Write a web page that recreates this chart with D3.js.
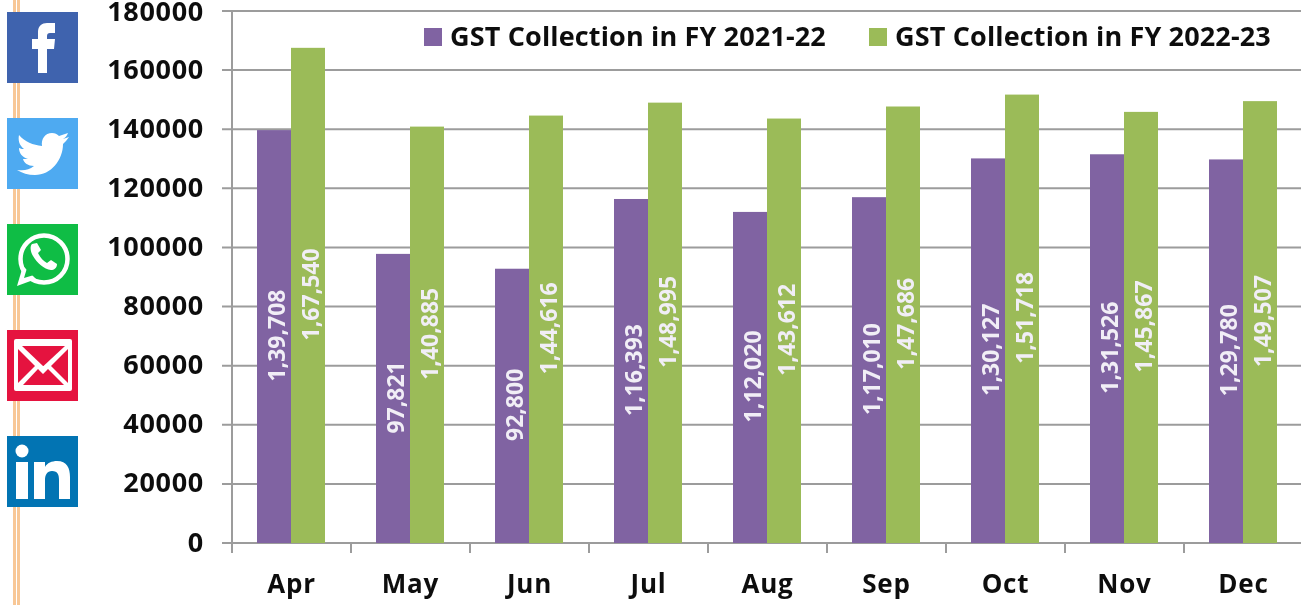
<!DOCTYPE html>
<html><head><meta charset="utf-8">
<script src="https://cdn.jsdelivr.net/npm/d3@7"></script>
<style>html,body{margin:0;padding:0;background:#fff;overflow:hidden}
svg{display:block}text{font-family:"Open Sans","Noto Sans",sans-serif;font-weight:700}</style>
</head><body><svg id="c" width="1301" height="605"></svg>
<script>
const months=["Apr","May","Jun","Jul","Aug","Sep","Oct","Nov","Dec"];
const fy2122=[139708,97821,92800,116393,112020,117010,130127,131526,129780];
const fy2223=[167540,140885,144616,148995,143612,147686,151718,145867,149507];
const labels2122=["1,39,708","97,821","92,800","1,16,393","1,12,020","1,17,010","1,30,127","1,31,526","1,29,780"];
const labels2223=["1,67,540","1,40,885","1,44,616","1,48,995","1,43,612","1,47,686","1,51,718","1,45,867","1,49,507"];
const yTicks=[0,20000,40000,60000,80000,100000,120000,140000,160000,180000];
const seriesNames=["GST Collection in FY 2021-22","GST Collection in FY 2022-23"];
const colors=["#8064a2","#9bbb59"];

const svg=d3.select("#c");
const soft=svg.append("defs").append("filter").attr("id","soft");
soft.append("feGaussianBlur").attr("stdDeviation",0.45);

const x=d3.scaleBand().domain(months).range([232,1303]);
const y=d3.scaleLinear().domain([0,180000]).range([543,11]);
const inner=d3.scaleBand().domain([0,1]).range([25,93]);

// side rule
svg.append("rect").attr("x",13).attr("y",0).attr("width",3).attr("height",605).attr("fill","#f8c796");
svg.append("rect").attr("x",17).attr("y",0).attr("width",3).attr("height",605).attr("fill","#f8c796");

// grid and axes
const g=svg.append("g").attr("filter","url(#soft)");
g.selectAll("line.grid").data(yTicks).join("line").attr("class","grid")
 .attr("x1",222).attr("x2",1303).attr("y1",d=>y(d)).attr("y2",d=>y(d))
 .attr("stroke","#9c9c9c").attr("stroke-width",2);
g.append("line").attr("x1",232).attr("x2",232).attr("y1",11).attr("y2",553).attr("stroke","#9c9c9c").attr("stroke-width",2);
const bandEdges=months.map(m=>x(m)).concat([1303]);
g.selectAll("line.tick").data(bandEdges).join("line").attr("class","tick")
 .attr("x1",d=>d).attr("x2",d=>d).attr("y1",543).attr("y2",553).attr("stroke","#9c9c9c").attr("stroke-width",2);

g.selectAll("text.yl").data(yTicks).join("text").attr("class","yl")
 .attr("x",204).attr("y",d=>Math.max(y(d)+8.5,21)).attr("text-anchor","end").attr("font-size",27).attr("letter-spacing",0.7).attr("fill","#111")
 .text(d=>d);
g.selectAll("text.xl").data(months).join("text").attr("class","xl")
 .attr("x",d=>x(d)+x.bandwidth()/2).attr("y",593).attr("text-anchor","middle").attr("font-size",26).attr("letter-spacing",0.8).attr("fill","#111")
 .text(d=>d);

// bars and rotated labels
[fy2122,fy2223].forEach((vals,s)=>{
  const lab=s===0?labels2122:labels2223;
  g.selectAll("rect.b"+s).data(vals).join("rect").attr("class","b"+s)
   .attr("x",(d,i)=>x(months[i])+inner(s)).attr("width",inner.bandwidth())
   .attr("y",d=>y(d)).attr("height",d=>y(0)-y(d)).attr("fill",colors[s]);
  g.selectAll("text.v"+s).data(vals).join("text").attr("class","v"+s)
   .attr("transform",(d,i)=>`translate(${x(months[i])+inner(s)+inner.bandwidth()/2+11},${(y(d)+y(0))/2-1}) rotate(-90)`)
   .attr("text-anchor","middle").attr("font-size",23).attr("fill","#f1eef6")
   .text((d,i)=>lab[i]);
});

// legend
const legX=[424,869];
seriesNames.forEach((n,i)=>{
  g.append("rect").attr("x",legX[i]).attr("y",28).attr("width",18).attr("height",18).attr("fill",colors[i]);
  g.append("text").attr("x",legX[i]+26).attr("y",46).attr("font-size",27).attr("letter-spacing",0.15).attr("fill","#111").text(n);
});

// share icons
const icons=[["#3f63ae",12],["#4eaaf1",118],["#0fbd45",224],["#e5133f",330],["#0274b3",436]];
const ic=svg.selectAll("g.icon").data(icons).join("g").attr("class","icon")
 .attr("transform",d=>`translate(7,${d[1]})`);
ic.append("rect").attr("width",71).attr("height",71).attr("fill",d=>d[0]);
const w="#fff";
d3.select(ic.nodes()[0]).append("path").attr("fill",w)
 .attr("d","M31 61V37H25V27H31V20C31 14 35 11 40 11H48V21H43C41 21 40 22 40 24V27H48L47 37H40V61Z");
d3.select(ic.nodes()[1]).append("path").attr("fill",w)
 .attr("d","M10 52C17 53 22 52 27 48C21 48 17 45 16 41C18 41 20 41 21 41C15 39 12 35 12 30C14 31 16 31 17 31C12 27 11 22 12 17C18 24 26 27 35 28C34 21 38 15 45 15C48 15 50 16 52 18L61 15C60 18 58 20 56 21L62 19C60 22 58 24 56 26C56 42 44 57 28 57C21 57 15 55 10 52Z");
const wa=d3.select(ic.nodes()[2]);
wa.append("circle").attr("cx",37).attr("cy",35).attr("r",23.5).attr("fill","none").attr("stroke",w).attr("stroke-width",4.5);
wa.append("path").attr("fill",w).attr("d","M10 62L16 42L29 55Z");
wa.append("path").attr("fill",d=>d[0]).attr("d","M17 54L20 44L27 51Z");
wa.append("path").attr("fill",w).attr("d","M25 20C23 22 23 27 26 32C30 39 37 45 44 46C47 46 50 44 50 40L44 36L40 39C36 37 33 33 31 29L34 26L30 19Z");
const em=d3.select(ic.nodes()[3]);
em.append("rect").attr("x",7).attr("y",9).attr("width",58).attr("height",52).attr("rx",2).attr("fill",w);
em.append("path").attr("fill",d=>d[0]).attr("d","M15 16H58L36.500 36L36 36Z");
em.append("path").attr("fill",d=>d[0]).attr("d","M11 19L28 36L11 53Z");
em.append("path").attr("fill",d=>d[0]).attr("d","M61 19L44 36L61 53Z");
em.append("path").attr("fill",d=>d[0]).attr("d","M16 55L31 39L36 44L41 39L57 55Z");
const li=d3.select(ic.nodes()[4]);
li.append("circle").attr("cx",15).attr("cy",15).attr("r",6.5).attr("fill",w);
li.append("rect").attr("x",9).attr("y",26).attr("width",12).attr("height",37).attr("fill",w);
li.append("path").attr("fill",w).attr("d","M27 26H38V31C40 27 45 25 50 25C60 25 63 32 63 41V63H52V44C52 39 51 35 45 35C40 35 38 39 38 44V63H27Z");
</script></body></html>
